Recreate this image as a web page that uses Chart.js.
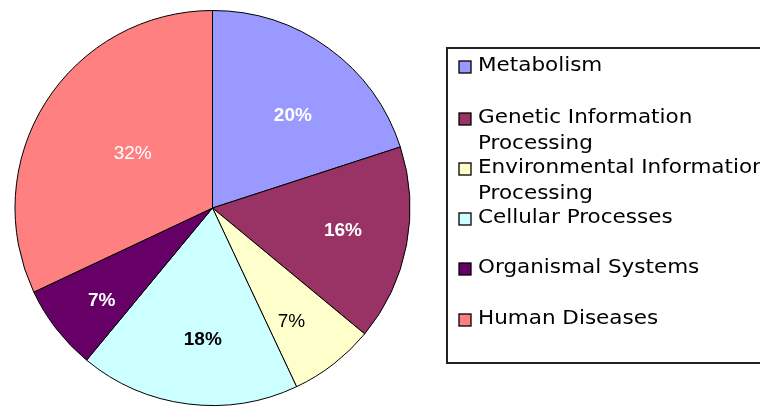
<!DOCTYPE html>
<html>
<head>
<meta charset="utf-8">
<script src="https://cdn.jsdelivr.net/npm/chart.js@4.4.1/dist/chart.umd.min.js"></script>
<style>
html,body{margin:0;padding:0;background:#fff;}
#wrap{position:relative;width:760px;height:407px;}
</style>
</head>
<body>
<div id="wrap"><canvas id="c" width="760" height="407"></canvas></div>
<script>
const categories = ["Metabolism", "Genetic Information Processing", "Environmental Information Processing", "Cellular Processes", "Organismal Systems", "Human Diseases"];
const legendLines = [["Metabolism"], ["Genetic Information", "Processing"], ["Environmental Information", "Processing"], ["Cellular Processes"], ["Organismal Systems"], ["Human Diseases"]];
const values = [20, 16, 7, 18, 7, 32];
const percentLabels = ["20%", "16%", "7%", "18%", "7%", "32%"];
const colors = ["#9999FF", "#993366", "#FFFFCC", "#CCFFFF", "#660066", "#FF8080"];

const labelStyle = {
  radial: [0.62, 0.67, 0.70, 0.67, 0.73, 0.49],
  angleShiftDeg: [5, -1, 3, -3, -2, 2],
  color: ["#fff", "#fff", "#000", "#000", "#fff", "#fff"],
  weight: ["bold", "bold", "normal", "bold", "bold", "normal"]
};

const sliceLabels = {
  id: 'sliceLabels',
  afterDatasetsDraw(chart) {
    const ctx = chart.ctx;
    const meta = chart.getDatasetMeta(0);
    ctx.save();
    ctx.textAlign = 'center';
    ctx.textBaseline = 'middle';
    meta.data.forEach((arc, i) => {
      const p = arc.getProps(['x', 'y', 'startAngle', 'endAngle', 'outerRadius'], true);
      const mid = (p.startAngle + p.endAngle) / 2 + labelStyle.angleShiftDeg[i] * Math.PI / 180;
      const r = p.outerRadius * labelStyle.radial[i];
      const x = p.x + Math.cos(mid) * r;
      const y = p.y + Math.sin(mid) * r;
      ctx.font = labelStyle.weight[i] + ' 19px "Liberation Sans", Arial, sans-serif';
      ctx.fillStyle = labelStyle.color[i];
      ctx.fillText(percentLabels[i], x, y);
    });
    ctx.restore();
  }
};

const boxLegend = {
  id: 'boxLegend',
  afterDraw(chart) {
    const ctx = chart.ctx;
    ctx.save();
    ctx.strokeStyle = '#222';
    ctx.lineWidth = 2;
    ctx.strokeRect(447, 48, 330, 315);
    const ys = [67, 119, 169, 219, 269, 320];
    legendLines.forEach((lines, i) => {
      const y = ys[i];
      ctx.fillStyle = colors[i];
      ctx.fillRect(459, y - 6, 12, 12);
      ctx.strokeStyle = '#000';
      ctx.lineWidth = 1.3;
      ctx.strokeRect(459, y - 6, 12, 12);
      ctx.fillStyle = '#000';
      ctx.font = '20px "DejaVu Sans", Verdana, sans-serif';
      ctx.textBaseline = 'middle';
      ctx.textAlign = 'left';
      lines.forEach((t, k) => {
        ctx.save();
        ctx.translate(478, y - 1 + k * 26);
        ctx.scale(1.075, 1);
        ctx.fillText(t, 0, 0);
        ctx.restore();
      });
    });
    ctx.restore();
  }
};

new Chart(document.getElementById('c'), {
  type: 'pie',
  data: {
    labels: categories,
    datasets: [{
      data: values,
      backgroundColor: colors,
      borderColor: '#000',
      borderWidth: 1,
      borderAlign: 'center'
    }]
  },
  options: {
    responsive: false,
    animation: false,
    layout: { padding: { left: 14, right: 349, top: 10, bottom: 1 } },
    plugins: {
      legend: { display: false },
      tooltip: { enabled: false }
    }
  },
  plugins: [sliceLabels, boxLegend]
});
</script>
</body>
</html>
